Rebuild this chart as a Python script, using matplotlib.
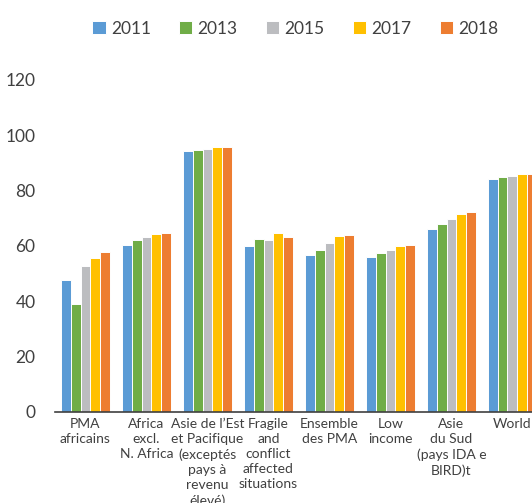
import matplotlib.pyplot as plt
import numpy as np

plt.rcParams.update({'font.family': ['Lato', 'DejaVu Sans']})
plt.rcParams.update({'text.color': '#404040'})

# categories and series
categories = ['PMA\nafricains', 'Africa\nexcl.\nN. Africa',
              'Asie de l\u2019Est\net Pacifique\n(exceptés\npays à\nrevenu\nélevé)',
              'Fragile\nand\nconflict\naffected\nsituations', 'Ensemble\ndes PMA',
              'Low\nincome', 'Asie\ndu Sud\n(pays IDA e\nBIRD)t', 'World']
years = ['2011', '2013', '2015', '2017', '2018']
v2011 = [47.7, 60.2, 94.2, 59.9, 56.7, 56.0, 66.3, 84.1]
v2013 = [39.0, 62.1, 94.6, 62.5, 58.7, 57.4, 67.8, 84.8]
v2015 = [52.7, 63.3, 95.2, 62.1, 60.9, 58.5, 69.6, 85.2]
v2017 = [55.6, 64.3, 95.7, 64.7, 63.5, 59.9, 71.5, 86.1]
v2018 = [57.8, 64.7, 95.7, 63.3, 64.0, 60.3, 72.2, 86.1]
colors = ['#5B9BD5', '#70AD47', '#BCBDC0', '#FFC000', '#ED7D31']

series = [v2011, v2013, v2015, v2017, v2018]

fig = plt.figure(figsize=(5.32, 5.03), dpi=100)
ax = fig.add_axes([0.1034, 0.181, 0.917, 0.66])

x = np.arange(len(categories))
w = 0.16
for i, (vals, c, yr) in enumerate(zip(series, colors, years)):
    ax.bar(x + (i - 2) * w, vals, w, color=c, edgecolor='white',
           linewidth=0.7, label=yr)

ax.set_xlim(-0.5, len(categories) - 0.5)
ax.set_ylim(0, 120)
ax.set_yticks(np.arange(0, 121, 20))
ax.set_xticks(x)
ax.set_xticklabels(categories, fontsize=10, linespacing=1.32, va='top')
ax.tick_params(axis='y', length=0, labelsize=12.5, pad=14, colors='#404040')
ax.tick_params(axis='x', length=0, pad=4, colors='#404040')
for s in ['top', 'right', 'left']:
    ax.spines[s].set_visible(False)
ax.spines['bottom'].set_color('#404040')
ax.spines['bottom'].set_linewidth(1.2)

fig.legend(loc='upper center', bbox_to_anchor=(0.555, 0.99), ncol=5,
           frameon=False, fontsize=12.5, handlelength=0.8, handleheight=0.8,
           handletextpad=0.3, columnspacing=1.6)

plt.savefig('out.png', dpi=100)
